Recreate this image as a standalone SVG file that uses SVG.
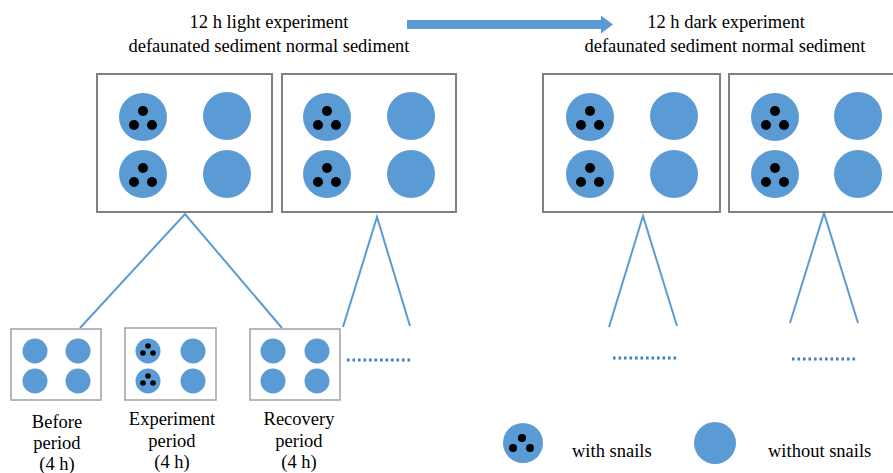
<svg xmlns="http://www.w3.org/2000/svg" width="893" height="473" viewBox="0 0 893 473">
<style>
  .t{font-family:"Liberation Serif","Times New Roman",serif;font-size:18.5px;fill:#000}
  .c{text-anchor:middle}
  .box{fill:#fff;stroke:#808080;stroke-width:2}
  .sbox{fill:#fff;stroke:#a0a0a0;stroke-width:1.5}
  .dish{fill:#5b9bd5}
  .snail{fill:#000}
  .conn{stroke:#5b9bd5;stroke-width:2;fill:none}
  .dots{stroke:#3f7fc4;stroke-width:3;stroke-dasharray:2.6 2.9;fill:none}
</style>
<defs>
  <g id="snailDish">
    <circle class="dish" r="24"/>
    <circle class="snail" cx="0" cy="-6" r="5"/>
    <circle class="snail" cx="-9" cy="8" r="5"/>
    <circle class="snail" cx="9" cy="8" r="5"/>
  </g>
  <circle id="plainDish" class="dish" r="24"/>
  <g id="smallSnailDish">
    <circle class="dish" r="12.5"/>
    <circle class="snail" cx="0" cy="-5" r="2.8"/>
    <circle class="snail" cx="-5" cy="2" r="2.8"/>
    <circle class="snail" cx="5" cy="2" r="2.8"/>
  </g>
  <circle id="smallPlainDish" class="dish" r="12.5"/>
</defs>

<g id="titles">
  <text class="t c" x="269" y="28">12 h light experiment</text>
  <text class="t c" x="269" y="52">defaunated sediment normal sediment</text>
  <text class="t c" x="726" y="28">12 h dark experiment</text>
  <text class="t c" x="725" y="52">defaunated sediment normal sediment</text>
</g>

<g id="arrow">
  <polygon fill="#5b9bd5" points="407,20 601,20 601,15.5 613,24.5 601,33.5 601,29 407,29"/>
</g>

<g id="connectors">
  <polyline class="conn" points="80,328 185,214 282,328"/>
  <polyline class="conn" points="343,327 377,217 410,326"/>
  <polyline class="conn" points="609,327 643,216 677,326"/>
  <polyline class="conn" points="790,323 824,213 858,323"/>
  <line class="dots" x1="347" y1="360" x2="412" y2="360"/>
  <line class="dots" x1="613" y1="358" x2="679" y2="358"/>
  <line class="dots" x1="792" y1="359" x2="857" y2="359"/>
</g>

<g id="light-defaunated">
  <rect class="box" x="97" y="74" width="175" height="138"/>
  <use href="#snailDish" x="143" y="117"/>
  <use href="#plainDish" x="227" y="116"/>
  <use href="#snailDish" x="143" y="174"/>
  <use href="#plainDish" x="227" y="174"/>
</g>
<g id="light-normal">
  <rect class="box" x="282" y="74" width="174" height="138"/>
  <use href="#snailDish" x="327" y="117"/>
  <use href="#plainDish" x="411" y="116"/>
  <use href="#snailDish" x="327" y="174"/>
  <use href="#plainDish" x="411" y="174"/>
</g>
<g id="dark-defaunated">
  <rect class="box" x="543" y="74" width="177" height="138"/>
  <use href="#snailDish" x="590" y="117"/>
  <use href="#plainDish" x="674" y="116"/>
  <use href="#snailDish" x="590" y="174"/>
  <use href="#plainDish" x="674" y="174"/>
</g>
<g id="dark-normal">
  <rect class="box" x="729" y="74" width="175" height="138"/>
  <use href="#snailDish" x="775" y="117"/>
  <use href="#plainDish" x="858" y="116"/>
  <use href="#snailDish" x="775" y="174"/>
  <use href="#plainDish" x="858" y="174"/>
</g>

<g id="before-period">
  <rect class="sbox" x="11" y="329" width="90" height="71"/>
  <use href="#smallPlainDish" x="35" y="351"/>
  <use href="#smallPlainDish" x="78" y="351"/>
  <use href="#smallPlainDish" x="35" y="381"/>
  <use href="#smallPlainDish" x="78" y="381"/>
  <text class="t c" x="57" y="428">Before</text>
  <text class="t c" x="57" y="449">period</text>
  <text class="t c" x="57" y="470">(4 h)</text>
</g>
<g id="experiment-period">
  <rect class="sbox" x="125" y="328" width="91" height="72"/>
  <use href="#smallSnailDish" x="148" y="351"/>
  <use href="#smallPlainDish" x="193" y="351"/>
  <use href="#smallSnailDish" x="148" y="381"/>
  <use href="#smallPlainDish" x="193" y="381"/>
  <text class="t c" x="172" y="425">Experiment</text>
  <text class="t c" x="172" y="447">period</text>
  <text class="t c" x="172" y="468">(4 h)</text>
</g>
<g id="recovery-period">
  <rect class="sbox" x="250" y="329" width="90" height="71"/>
  <use href="#smallPlainDish" x="273" y="351"/>
  <use href="#smallPlainDish" x="317" y="351"/>
  <use href="#smallPlainDish" x="273" y="381"/>
  <use href="#smallPlainDish" x="317" y="381"/>
  <text class="t c" x="299" y="425">Recovery</text>
  <text class="t c" x="299" y="447">period</text>
  <text class="t c" x="299" y="468">(4 h)</text>
</g>

<g id="legend">
  <circle class="dish" cx="523" cy="443" r="20"/>
  <circle class="snail" cx="522" cy="438" r="4"/>
  <circle class="snail" cx="513" cy="448" r="4"/>
  <circle class="snail" cx="530" cy="448" r="4"/>
  <text class="t" x="572" y="457">with snails</text>
  <circle class="dish" cx="715" cy="443" r="21"/>
  <text class="t" x="768" y="457">without snails</text>
</g>
</svg>
